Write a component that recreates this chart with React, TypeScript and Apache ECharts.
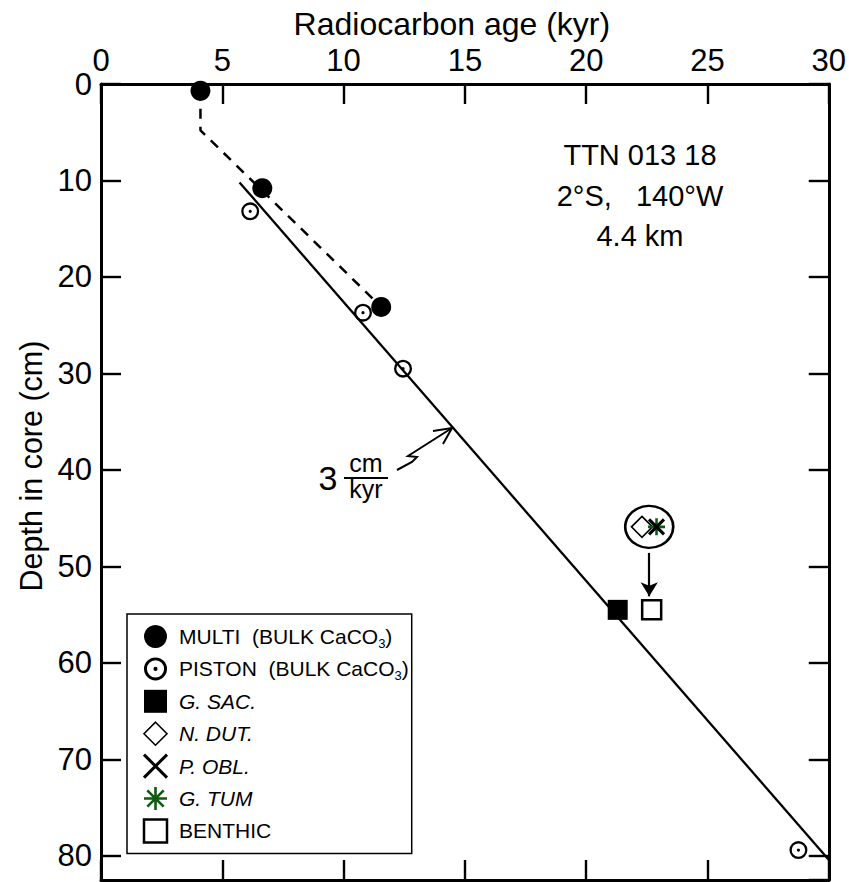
import React, { useEffect, useRef } from "react";
import * as echarts from "echarts";

// ---- data (x = radiocarbon age in kyr, y = depth in core in cm) ----
const xTickValues = [0, 5, 10, 15, 20, 25, 30];
const yTickValues = [0, 10, 20, 30, 40, 50, 60, 70, 80];

const multiData = [[4.1, 0.7], [6.65, 10.8], [11.55, 23.1]];
const pistonData = [[6.15, 13.2], [10.8, 23.7], [12.45, 29.5], [28.75, 79.4]];
const gSacData = [[21.3, 54.5]];
const nDutData = [[22.3, 45.9]];
const pOblData = [[22.9, 45.9]];
const gTumData = [[22.9, 45.9]];
const benthicData = [[22.7, 54.5]];
const clusterRing = [[22.6, 45.9]];
const clusterArrow = [[22.6, 48.6], [22.6, 53.1]];

const sedRateLine = [[5.71, 10.2], [30, 80.4]];
const multiTrend = [[4.1, 0.7], [4.1, 4.8], [11.55, 23.1]];

const infoLines = ["TTN 013 18", "2°S,   140°W", "4.4 km"];

const FONT = "'Liberation Sans', Arial, Helvetica, sans-serif";
const GREEN = "#0d5a12";

const PISTON_PATH =
  "path://M0,9A9,9 0 1,1 18,9A9,9 0 1,1 0,9Z M2.3,9A6.7,6.7 0 1,0 15.7,9A6.7,6.7 0 1,0 2.3,9Z M7.4,9A1.6,1.6 0 1,1 10.6,9A1.6,1.6 0 1,1 7.4,9Z";
const CROSS_PATH = "path://M0,0L16,16M16,0L0,16";
const STAR_PATH = "path://M8,0L8,16M0,8L16,8M2.3,2.3L13.7,13.7M13.7,2.3L2.3,13.7";

const legendRich: Record<string, string> = {
  MULTI: "{n|MULTI  (BULK CaCO}{s|3}{n|)}",
  PISTON: "{n|PISTON  (BULK CaCO}{s|3}{n|)}",
  "G. SAC.": "{i|G. SAC.}",
  "N. DUT.": "{i|N. DUT.}",
  "P. OBL.": "{i|P. OBL.}",
  "G. TUM": "{i|G. TUM}",
  BENTHIC: "{n|BENTHIC}",
};

export default function App() {
  const ref = useRef<HTMLDivElement>(null);
  useEffect(() => {
    if (!ref.current) return;
    const chart = echarts.init(ref.current, undefined, { renderer: "svg" });
    const axisLine = { show: true, onZero: false, lineStyle: { color: "#000", width: 3 } };
    const tick = { show: true, inside: true, length: 20, lineStyle: { color: "#000", width: 2.4 } };
    const option: any = {
      animation: false,
      backgroundColor: "#fff",
      grid: { left: 101, top: 84, width: 730, height: 796, containLabel: false },
      xAxis: [
        {
          type: "value",
          position: "top",
          min: 0,
          max: 30,
          interval: 5,
          name: "Radiocarbon age (kyr)",
          nameLocation: "middle",
          nameGap: 44,
          nameMoveOverlap: false,
          nameTextStyle: { fontSize: 32, lineHeight: 32, fontFamily: FONT, color: "#000", padding: [0, 26, 0, 0] },
          axisLine,
          axisTick: tick,
          axisLabel: { fontSize: 31, lineHeight: 30, fontFamily: FONT, color: "#000", margin: 9 },
          splitLine: { show: false },
        },
        {
          type: "value",
          position: "bottom",
          min: 0,
          max: 30,
          interval: 5,
          axisLine,
          axisTick: tick,
          axisLabel: { show: false },
          splitLine: { show: false },
        },
      ],
      yAxis: [
        {
          type: "value",
          inverse: true,
          min: 0,
          max: 82.5,
          interval: 10,
          name: "Depth in core (cm)",
          nameLocation: "middle",
          nameGap: 55,
          nameMoveOverlap: false,
          nameTextStyle: { fontSize: 30.5, fontFamily: FONT, color: "#000", padding: [0, 0, 0, 32] },
          axisLine,
          axisTick: tick,
          axisLabel: {
            fontSize: 31,
            fontFamily: FONT,
            color: "#000",
            margin: 9,
            showMaxLabel: false,
            formatter: (v: number) => (yTickValues.includes(v) ? String(v) : ""),
          },
          splitLine: { show: false },
        },
        {
          type: "value",
          inverse: true,
          position: "right",
          min: 0,
          max: 82.5,
          interval: 10,
          axisLine,
          axisTick: tick,
          axisLabel: { show: false },
          splitLine: { show: false },
        },
      ],
      legend: {
        orient: "vertical",
        left: 127,
        top: 614,
        itemWidth: 23,
        itemHeight: 23,
        itemGap: 4.4,
        padding: [8.5, 3, 8.5, 14.5],
        borderColor: "#000",
        borderWidth: 1.5,
        selectedMode: false,
        data: [
          { name: "MULTI" },
          { name: "PISTON" },
          { name: "G. SAC." },
          { name: "N. DUT.", itemStyle: { borderWidth: 1.6 } },
          { name: "P. OBL.", itemStyle: { borderWidth: 3 } },
          { name: "G. TUM", itemStyle: { borderWidth: 2.6 } },
          { name: "BENTHIC", itemStyle: { borderWidth: 2.5 } },
        ],
        formatter: (name: string) => legendRich[name] || name,
        textStyle: {
          fontFamily: FONT,
          fontSize: 21,
          lineHeight: 28,
          color: "#000",
          padding: [0, 0, 0, 7],
          rich: {
            n: { fontFamily: FONT, fontSize: 21, lineHeight: 28, color: "#000" },
            i: { fontFamily: FONT, fontSize: 21, lineHeight: 28, color: "#000", fontStyle: "italic" },
            s: { fontFamily: FONT, fontSize: 13, lineHeight: 14, color: "#000", padding: [14, 0, 0, 0] },
          },
        },
      },
      series: [
        {
          type: "line",
          name: "rate",
          data: sedRateLine,
          symbol: "none",
          lineStyle: { color: "#000", width: 2.3 },
          z: 1,
        },
        {
          type: "line",
          name: "trend",
          data: multiTrend,
          symbol: "none",
          lineStyle: { color: "#000", width: 2.5, type: [10, 8] },
          z: 1,
        },
        {
          type: "scatter",
          name: "ring",
          data: clusterRing,
          symbol: "circle",
          symbolSize: [48, 42],
          itemStyle: { color: "none", borderColor: "#000", borderWidth: 2.5, opacity: 1 },
          z: 2,
          markLine: {
            silent: true,
            symbol: ["none", "arrow"],
            symbolSize: [13, 14],
            label: { show: false },
            lineStyle: { color: "#000", width: 2.2, type: "solid" },
            data: [[{ coord: clusterArrow[0] }, { coord: clusterArrow[1] }]],
          },
        },
        {
          type: "scatter",
          name: "MULTI",
          data: multiData,
          symbol: "circle",
          symbolSize: 20,
          itemStyle: { color: "#000", opacity: 1 },
          z: 3,
        },
        {
          type: "scatter",
          name: "PISTON",
          data: pistonData,
          symbol: PISTON_PATH,
          symbolSize: 18,
          itemStyle: { color: "#000", opacity: 1 },
          z: 3,
        },
        {
          type: "scatter",
          name: "G. SAC.",
          data: gSacData,
          symbol: "rect",
          symbolSize: 20,
          itemStyle: { color: "#000", opacity: 1 },
          z: 3,
        },
        {
          type: "scatter",
          name: "N. DUT.",
          data: nDutData,
          symbol: "diamond",
          symbolSize: 21,
          itemStyle: { color: "#fff", borderColor: "#000", borderWidth: 1.6, opacity: 1 },
          z: 3,
        },
        {
          type: "scatter",
          name: "P. OBL.",
          data: pOblData,
          symbol: CROSS_PATH,
          symbolSize: 15,
          itemStyle: { color: "none", borderColor: "#000", borderWidth: 3, opacity: 1 },
          z: 5,
        },
        {
          type: "scatter",
          name: "G. TUM",
          data: gTumData,
          symbol: STAR_PATH,
          symbolSize: 17,
          itemStyle: { color: "none", borderColor: GREEN, borderWidth: 2.6, opacity: 1 },
          z: 4,
        },
        {
          type: "scatter",
          name: "BENTHIC",
          data: benthicData,
          symbol: "rect",
          symbolSize: 19,
          itemStyle: { color: "#fff", borderColor: "#000", borderWidth: 2.5, opacity: 1 },
          z: 3,
        },
      ],
      graphic: [
        ...infoLines.map((t, i) => ({
          type: "text",
          x: 640,
          y: 155 + i * 40.5,
          style: {
            text: t,
            fontSize: 29,
            fontFamily: FONT,
            fill: "#000",
            textAlign: "center",
            textVerticalAlign: "middle",
          },
        })),
        {
          type: "text",
          x: 328,
          y: 478,
          style: { text: "3", fontSize: 34, fontFamily: FONT, fill: "#000", textAlign: "center", textVerticalAlign: "middle" },
        },
        {
          type: "text",
          x: 366,
          y: 463,
          style: { text: "cm", fontSize: 25, fontFamily: FONT, fill: "#000", textAlign: "center", textVerticalAlign: "middle" },
        },
        {
          type: "text",
          x: 366,
          y: 489,
          style: { text: "kyr", fontSize: 25, fontFamily: FONT, fill: "#000", textAlign: "center", textVerticalAlign: "middle" },
        },
        {
          type: "line",
          shape: { x1: 344, y1: 478, x2: 388, y2: 478 },
          style: { stroke: "#000", lineWidth: 1.8 },
        },
        {
          type: "polyline",
          shape: { points: [[397, 470], [412, 462], [417, 457], [408, 456], [452, 428]] },
          style: { stroke: "#000", lineWidth: 2, fill: "none" },
        },
        {
          type: "polyline",
          shape: { points: [[433, 431], [452, 428], [443, 444]] },
          style: { stroke: "#000", lineWidth: 2, fill: "none" },
        },
      ],
    };
    chart.setOption(option);
    return () => chart.dispose();
  }, []);
  return <div ref={ref} style={{ width: 849, height: 882, position: "absolute", left: 0, top: 0 }} />;
}
